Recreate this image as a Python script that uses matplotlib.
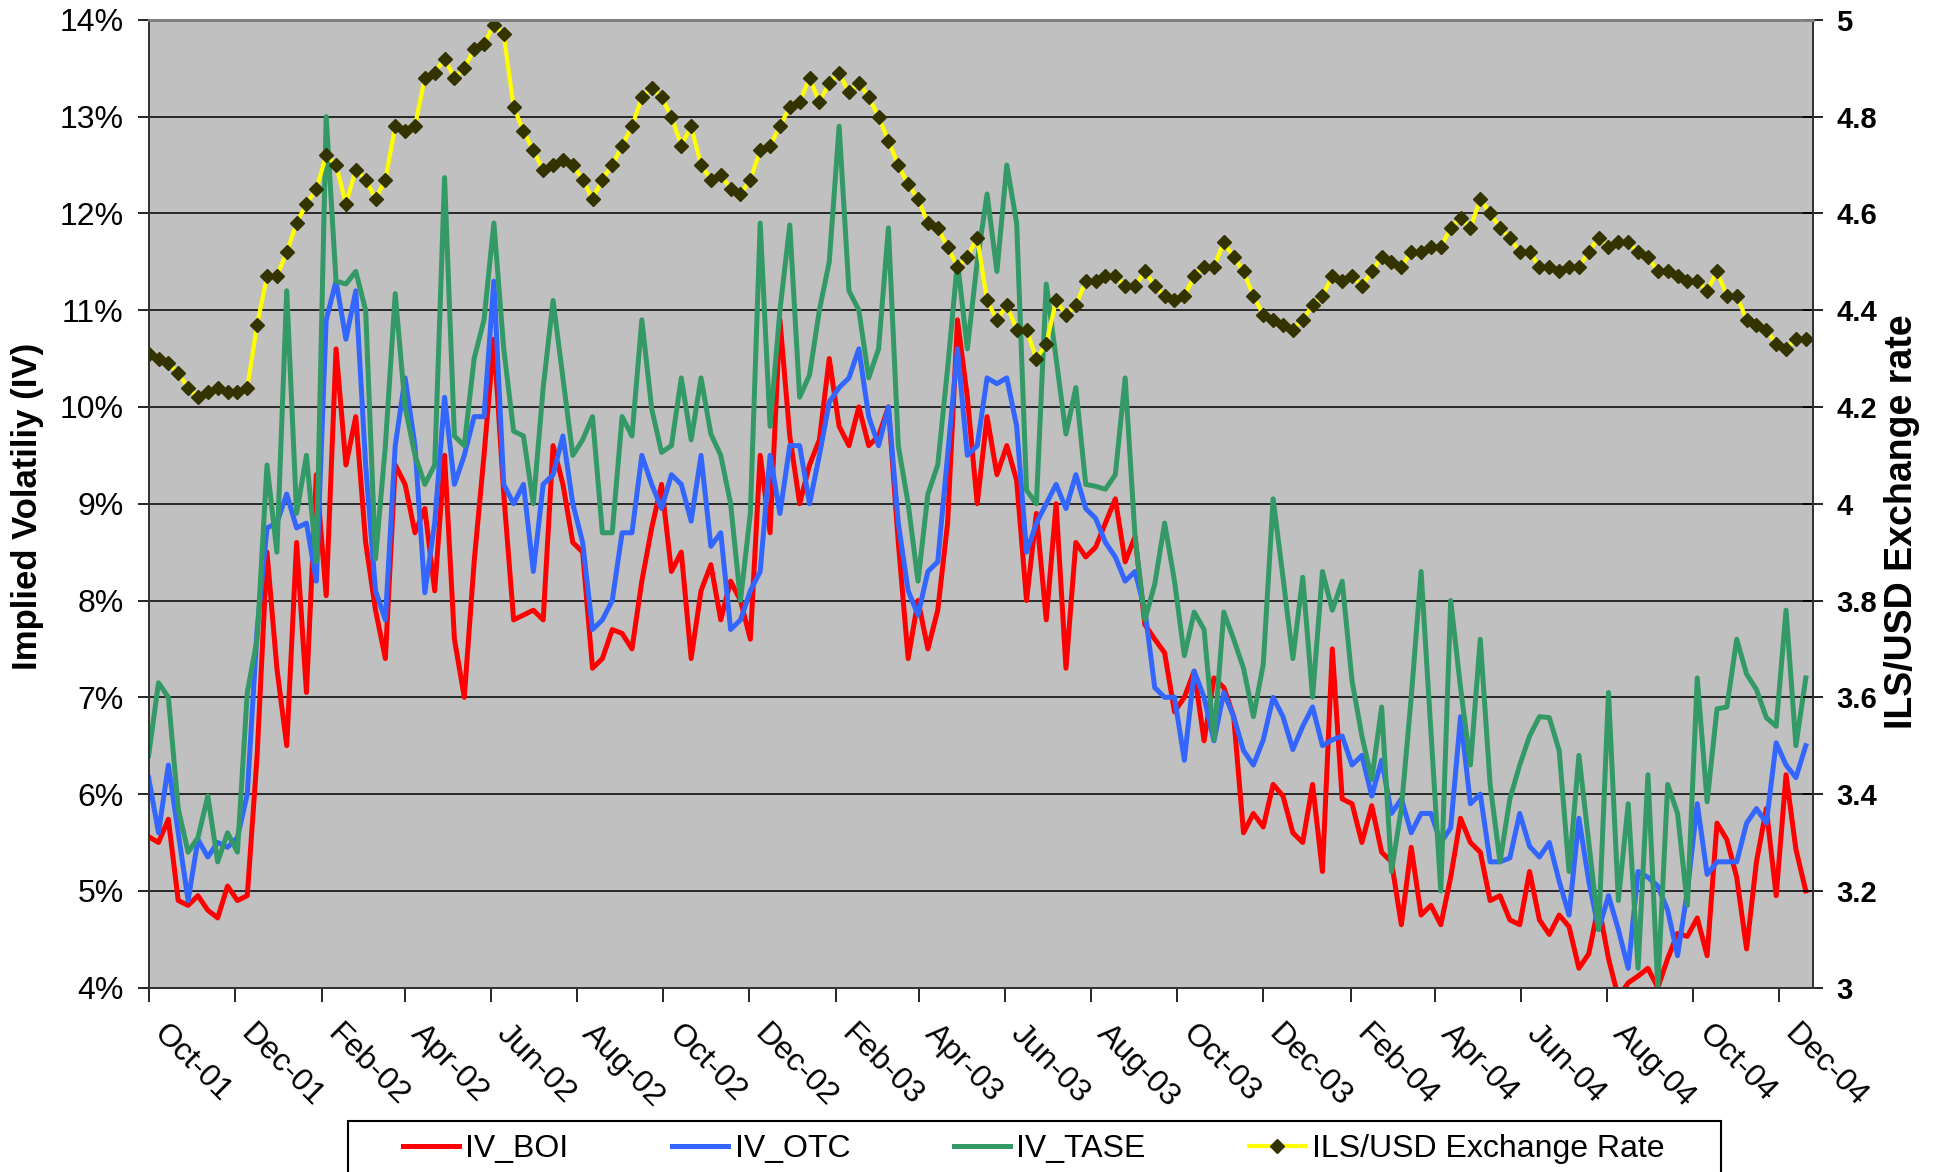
import matplotlib
matplotlib.use('Agg')
import matplotlib.pyplot as plt
from matplotlib.ticker import FuncFormatter
from matplotlib.patches import Rectangle
from matplotlib.transforms import ScaledTranslation
import pandas as pd

plt.rcParams['font.family'] = ['Liberation Sans', 'DejaVu Sans']

# weekly observations, Oct-2001 .. Dec-2004
dates = pd.date_range('2001-10-01', periods=169, freq='7D')

usd_ils = [4.31, 4.30, 4.29, 4.27, 4.24, 4.22, 4.23, 4.24, 4.23, 4.23,
           4.24, 4.37, 4.47, 4.47, 4.52, 4.58, 4.62, 4.65, 4.72, 4.70,
           4.62, 4.69, 4.67, 4.63, 4.67, 4.78, 4.77, 4.78, 4.88, 4.89,
           4.92, 4.88, 4.90, 4.94, 4.95, 4.99, 4.97, 4.82, 4.77, 4.73,
           4.69, 4.70, 4.71, 4.70, 4.67, 4.63, 4.67, 4.70, 4.74, 4.78,
           4.84, 4.86, 4.84, 4.80, 4.74, 4.78, 4.70, 4.67, 4.68, 4.65,
           4.64, 4.67, 4.73, 4.74, 4.78, 4.82, 4.83, 4.88, 4.83, 4.87,
           4.89, 4.85, 4.87, 4.84, 4.80, 4.75, 4.70, 4.66, 4.63, 4.58,
           4.57, 4.53, 4.49, 4.51, 4.55, 4.42, 4.38, 4.41, 4.36, 4.36,
           4.30, 4.33, 4.42, 4.39, 4.41, 4.46, 4.46, 4.47, 4.47, 4.45,
           4.45, 4.48, 4.45, 4.43, 4.42, 4.43, 4.47, 4.49, 4.49, 4.54,
           4.51, 4.48, 4.43, 4.39, 4.38, 4.37, 4.36, 4.38, 4.41, 4.43,
           4.47, 4.46, 4.47, 4.45, 4.48, 4.51, 4.50, 4.49, 4.52, 4.52,
           4.53, 4.53, 4.57, 4.59, 4.57, 4.63, 4.60, 4.57, 4.55, 4.52,
           4.52, 4.49, 4.49, 4.48, 4.49, 4.49, 4.52, 4.55, 4.53, 4.54,
           4.54, 4.52, 4.51, 4.48, 4.48, 4.47, 4.46, 4.46, 4.44, 4.48,
           4.43, 4.43, 4.38, 4.37, 4.36, 4.33, 4.32, 4.34, 4.34]

iv_boi = [5.56, 5.5, 5.74, 4.9, 4.85, 4.95, 4.8, 4.72, 5.05, 4.9,
          4.95, 6.4, 8.5, 7.3, 6.5, 8.6, 7.05, 9.3, 8.05, 10.6,
          9.4, 9.9, 8.6, 7.9, 7.4, 9.4, 9.2, 8.7, 8.95, 8.1,
          9.5, 7.6, 7.0, 8.4, 9.5, 10.7, 9.1, 7.8, 7.85, 7.9,
          7.8, 9.6, 9.2, 8.6, 8.5, 7.3, 7.4, 7.7, 7.66, 7.5,
          8.2, 8.75, 9.2, 8.3, 8.5, 7.4, 8.1, 8.37, 7.8, 8.2,
          8.0, 7.6, 9.5, 8.7, 10.9, 9.7, 9.0, 9.4, 9.66, 10.5,
          9.8, 9.6, 10.0, 9.6, 9.7, 10.0, 8.6, 7.4, 8.0, 7.5,
          7.9, 8.8, 10.9, 10.1, 9.0, 9.9, 9.3, 9.6, 9.24, 8.0,
          8.9, 7.8, 9.0, 7.3, 8.6, 8.45, 8.55, 8.8, 9.05, 8.4,
          8.66, 7.75, 7.6, 7.46, 6.85, 7.0, 7.27, 6.55, 7.2, 7.1,
          6.8, 5.6, 5.8, 5.66, 6.1, 5.98, 5.6, 5.5, 6.1, 5.2,
          7.5, 5.95, 5.9, 5.5, 5.88, 5.4, 5.3, 4.65, 5.45, 4.75,
          4.85, 4.65, 5.14, 5.75, 5.5, 5.4, 4.9, 4.95, 4.7, 4.65,
          5.2, 4.7, 4.55, 4.75, 4.63, 4.2, 4.35, 4.85, 4.3, 3.9,
          4.05, 4.12, 4.2, 4.0, 4.3, 4.56, 4.53, 4.72, 4.33, 5.7,
          5.53, 5.14, 4.4, 5.3, 5.85, 4.95, 6.2, 5.43, 5.0]

iv_otc = [6.17, 5.6, 6.3, 5.6, 4.9, 5.53, 5.35, 5.5, 5.45, 5.55,
          6.0, 7.7, 8.75, 8.8, 9.1, 8.75, 8.8, 8.2, 10.9, 11.3,
          10.7, 11.2, 9.4, 8.1, 7.8, 9.6, 10.3, 9.6, 8.08, 8.8,
          10.1, 9.2, 9.5, 9.9, 9.9, 11.3, 9.2, 9.0, 9.2, 8.3,
          9.2, 9.3, 9.7, 9.0, 8.6, 7.7, 7.8, 8.0, 8.7, 8.7,
          9.5, 9.2, 8.95, 9.3, 9.2, 8.82, 9.5, 8.56, 8.7, 7.7,
          7.8, 8.1, 8.3, 9.5, 8.9, 9.6, 9.6, 9.0, 9.5, 10.05,
          10.2, 10.3, 10.6, 9.9, 9.6, 10.0, 8.8, 8.1, 7.85, 8.3,
          8.4, 9.5, 10.6, 9.5, 9.6, 10.3, 10.24, 10.3, 9.8, 8.5,
          8.8, 9.0, 9.2, 8.95, 9.3, 8.95, 8.85, 8.6, 8.45, 8.2,
          8.3, 7.9, 7.1, 7.0, 7.0, 6.35, 7.27, 7.0, 6.55, 7.05,
          6.8, 6.45, 6.3, 6.56, 7.0, 6.8, 6.46, 6.7, 6.9, 6.5,
          6.56, 6.6, 6.3, 6.4, 5.98, 6.35, 5.8, 5.95, 5.6, 5.8,
          5.8, 5.5, 5.65, 6.8, 5.9, 6.0, 5.3, 5.3, 5.34, 5.8,
          5.46, 5.35, 5.5, 5.1, 4.75, 5.75, 5.1, 4.6, 4.95, 4.6,
          4.2, 5.2, 5.14, 5.05, 4.8, 4.33, 5.0, 5.9, 5.17, 5.3,
          5.3, 5.3, 5.7, 5.85, 5.7, 6.53, 6.3, 6.17, 6.5]

iv_tase = [6.4, 7.15, 7.0, 5.85, 5.4, 5.55, 5.98, 5.3, 5.6, 5.4,
           7.05, 7.6, 9.4, 8.5, 11.2, 8.9, 9.5, 8.4, 13.0, 11.3,
           11.27, 11.4, 11.0, 8.43, 9.6, 11.17, 10.0, 9.5, 9.2, 9.4,
           12.37, 9.7, 9.6, 10.5, 10.9, 11.9, 10.6, 9.75, 9.7, 9.0,
           10.2, 11.1, 10.3, 9.5, 9.66, 9.9, 8.7, 8.7, 9.9, 9.7,
           10.9, 9.98, 9.53, 9.6, 10.3, 9.66, 10.3, 9.72, 9.5, 9.0,
           8.0, 8.9, 11.9, 9.8, 11.0, 11.88, 10.1, 10.33, 11.0, 11.5,
           12.9, 11.2, 11.0, 10.3, 10.6, 11.85, 9.6, 9.0, 8.2, 9.1,
           9.4, 10.4, 11.5, 10.6, 11.5, 12.2, 11.4, 12.5, 11.9, 9.14,
           9.0, 11.27, 10.5, 9.72, 10.2, 9.2, 9.18, 9.15, 9.3, 10.3,
           8.66, 7.8, 8.17, 8.8, 8.2, 7.43, 7.88, 7.7, 6.56, 7.88,
           7.6, 7.3, 6.8, 7.34, 9.05, 8.24, 7.4, 8.24, 7.0, 8.3,
           7.9, 8.2, 7.17, 6.6, 6.15, 6.9, 5.2, 5.85, 7.0, 8.3,
           6.64, 5.0, 8.0, 7.1, 6.3, 7.6, 6.1, 5.3, 5.95, 6.3,
           6.6, 6.8, 6.79, 6.45, 5.2, 6.4, 5.5, 4.6, 7.05, 4.9,
           5.9, 4.2, 6.2, 4.0, 6.1, 5.8, 4.85, 7.2, 5.92, 6.88,
           6.9, 7.6, 7.24, 7.08, 6.79, 6.7, 7.9, 6.5, 7.2]

month_ticks = pd.date_range('2001-10-01', '2004-12-01', freq='2MS')

fig = plt.figure(figsize=(19.43, 11.72), dpi=100)
ax = fig.add_axes([0.0765, 0.1573, 0.8565, 0.8258])
ax.set_facecolor('#C0C0C0')

l1, = ax.plot(dates, iv_boi, color='#FF0000', lw=3.6, label='IV_BOI')
l2, = ax.plot(dates, iv_otc, color='#3366FF', lw=3.6, label='IV_OTC')
l3, = ax.plot(dates, iv_tase, color='#339966', lw=3.6, label='IV_TASE')

ax.set_ylim(4, 14)
ax.set_yticks(range(4, 15))
ax.yaxis.set_major_formatter(FuncFormatter(lambda v, p: '%d%%' % v))
ax.grid(axis='y', color='black', lw=1.1)
ax.set_axisbelow(True)
ax.set_xlim(pd.Timestamp('2001-10-01'), pd.Timestamp('2004-12-25'))
ax.set_xticks(month_ticks)
ax.set_xticklabels([d.strftime('%b-%y') for d in month_ticks], rotation=-45,
                   ha='left', va='center', rotation_mode='anchor')
ax.tick_params(axis='x', direction='out', length=10, width=1.2, pad=20, labelsize=23)
ax.tick_params(axis='y', direction='out', length=8, width=1.2, pad=10, labelsize=23)
shift = ScaledTranslation(0.1, 0, fig.dpi_scale_trans)
for t in ax.get_xticklabels():
    t.set_transform(t.get_transform() + shift)

ax2 = ax.twinx()
l4, = ax2.plot(dates, usd_ils, color='#FFFF00', lw=3, marker='D', ms=7,
               mfc='#333300', mec='#333300', label='ILS/USD Exchange Rate')
ax2.set_ylim(3, 5)
ax2.set_yticks([3, 3.2, 3.4, 3.6, 3.8, 4, 4.2, 4.4, 4.6, 4.8, 5])
ax2.yaxis.set_major_formatter(FuncFormatter(lambda v, p: '%g' % v))
ax2.tick_params(axis='y', direction='inout', length=14, width=1.2, pad=10, labelsize=21)
for t in ax2.get_yticklabels():
    t.set_fontweight('bold')

for a in (ax, ax2):
    for s in ('left', 'right', 'bottom'):
        a.spines[s].set_color('#333333')
        a.spines[s].set_linewidth(1.3)
    a.spines['top'].set_color('#808080')
    a.spines['top'].set_linewidth(2)

fig.text(0.0144, 0.568, 'Implied Volatiliy (IV)', rotation=90, ha='center', va='center',
         fontsize=25, fontweight='bold')
fig.text(0.979, 0.555, 'ILS/USD Exchange rate', rotation=90, ha='center', va='center',
         fontsize=27, fontweight='bold')

# legend box sits at the bottom edge and runs off the figure
box = Rectangle((348 / 1943, -0.05), (1721 - 348) / 1943, 0.05 + 1 - 1121 / 1172,
                transform=fig.transFigure, facecolor='white', edgecolor='black', lw=1.5, zorder=4)
fig.add_artist(box)
fig.legend([l1, l2, l3, l4], ['IV_BOI', 'IV_OTC', 'IV_TASE', 'ILS/USD Exchange Rate'],
           loc='center left', bbox_to_anchor=(403 / 1943, 1 - 1149 / 1172), ncol=4,
           frameon=False, fontsize=23, handlelength=1.75, handletextpad=0.2,
           columnspacing=3.25, borderpad=0, borderaxespad=0)

fig.savefig('out.png', dpi=100)
